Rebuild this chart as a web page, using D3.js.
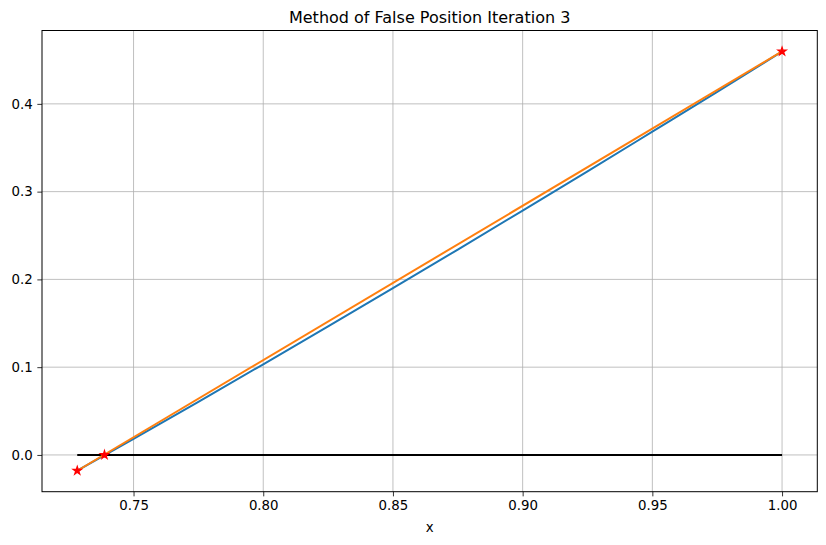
<!DOCTYPE html>
<html>
<head>
<meta charset="utf-8">
<script src="https://cdn.jsdelivr.net/npm/d3@7"></script>
<style>
  html, body { margin: 0; padding: 0; background: #fff; }
  svg { display: block; font-family: "DejaVu Sans", sans-serif; }
</style>
</head>
<body>
<svg id="chart" width="826" height="545"></svg>
<script>
// Function curve f(x) (blue)
const curveX = [0.7283, 0.75, 0.775, 0.80, 0.825, 0.85, 0.875, 0.90, 0.925, 0.95, 0.975, 1.00];
const curveY = [-0.0180, 0.0183, 0.0605, 0.1033, 0.1464, 0.1900, 0.2340, 0.2784, 0.3231, 0.3683, 0.4136, 0.4597];
// Secant line (orange)
const secantX = [0.7283, 1.00];
const secantY = [-0.0180, 0.4597];
// Zero line (black)
const zeroX = [0.7283, 1.00];
const zeroY = [0, 0];
// Star markers (red): a, b and new estimate c
const starX = [0.7283, 1.00, 0.7388];
const starY = [-0.0180, 0.4597, 0];
// Ticks
const xTicks = [0.75, 0.80, 0.85, 0.90, 0.95, 1.00];
const yTicks = [0.0, 0.1, 0.2, 0.3, 0.4];
const titleText = "Method of False Position Iteration 3";
const xLabel = "x";

(function () {
const svg = d3.select("#chart");
const mLeft = 42, mRight = 817.3, mTop = 30.5, mBottom = 491.7;

const xmin = 0.7283, xmax = 1.0;
const ymin = -0.0180, ymax = 0.4597;
const xm = (xmax - xmin) * 0.05, ym = (ymax - ymin) * 0.05;
const x = d3.scaleLinear().domain([xmin - xm, xmax + xm]).range([mLeft, mRight]);
const y = d3.scaleLinear().domain([ymin - ym, ymax + ym]).range([mBottom, mTop]);

// Grid
const grid = svg.append("g");
xTicks.forEach(t => grid.append("line")
  .attr("x1", x(t)).attr("x2", x(t)).attr("y1", mTop).attr("y2", mBottom)
  .attr("stroke", "#b0b0b0").attr("stroke-width", 0.8));
yTicks.forEach(t => grid.append("line")
  .attr("x1", mLeft).attr("x2", mRight).attr("y1", y(t)).attr("y2", y(t))
  .attr("stroke", "#b0b0b0").attr("stroke-width", 0.8));

svg.append("defs").append("clipPath").attr("id", "clip")
  .append("rect").attr("x", mLeft).attr("y", mTop).attr("width", mRight - mLeft).attr("height", mBottom - mTop);
const plot = svg.append("g").attr("clip-path", "url(#clip)");

const curveLine = d3.line().x(d => x(d[0])).y(d => y(d[1])).curve(d3.curveMonotoneX);
const straight = d3.line().x(d => x(d[0])).y(d => y(d[1]));

plot.append("path").datum(curveX.map((v, i) => [v, curveY[i]]))
  .attr("d", curveLine).attr("fill", "none")
  .attr("stroke", "#1f77b4").attr("stroke-width", 2);
plot.append("path").datum(zeroX.map((v, i) => [v, zeroY[i]]))
  .attr("d", straight).attr("fill", "none").attr("stroke", "#000").attr("stroke-width", 2);
plot.append("path").datum(secantX.map((v, i) => [v, secantY[i]]))
  .attr("d", straight).attr("fill", "none").attr("stroke", "#ff7f0e").attr("stroke-width", 2);

const star = d3.symbol().type(d3.symbolStar).size(20);
starX.forEach((v, i) => plot.append("path")
  .attr("d", star()).attr("transform", `translate(${x(v)},${y(starY[i])})`)
  .attr("fill", "#ff0000").attr("stroke", "#ff0000").attr("stroke-width", 1.3)
  .attr("stroke-linejoin", "miter"));

// Axes
const xAxis = d3.axisBottom(x).tickValues(xTicks).tickFormat(d3.format(".2f")).tickSize(4.67).tickPadding(4.67);
const yAxis = d3.axisLeft(y).tickValues(yTicks).tickFormat(d3.format(".1f")).tickSize(4.67).tickPadding(4.67);
const gx = svg.append("g").attr("transform", `translate(0,${mBottom})`).call(xAxis);
const gy = svg.append("g").attr("transform", `translate(${mLeft},0)`).call(yAxis);
[gx, gy].forEach(g => {
  g.select(".domain").remove();
  g.selectAll(".tick line").attr("stroke", "#000").attr("stroke-width", 0.8);
  g.selectAll(".tick text").attr("font-size", "13.33px").attr("fill", "#000")
    .attr("font-family", "DejaVu Sans, sans-serif");
});

// Frame
svg.append("rect").attr("x", mLeft).attr("y", mTop).attr("width", mRight - mLeft).attr("height", mBottom - mTop)
  .attr("fill", "none").attr("stroke", "#000").attr("stroke-width", 1);

// Title and label
svg.append("text").attr("x", (mLeft + mRight) / 2).attr("y", 22.5).attr("text-anchor", "middle")
  .attr("font-size", "16px").attr("fill", "#000").text(titleText);
svg.append("text").attr("x", (mLeft + mRight) / 2).attr("y", 532).attr("text-anchor", "middle")
  .attr("font-size", "13.33px").attr("fill", "#000").text(xLabel);
})();
</script>
</body>
</html>
